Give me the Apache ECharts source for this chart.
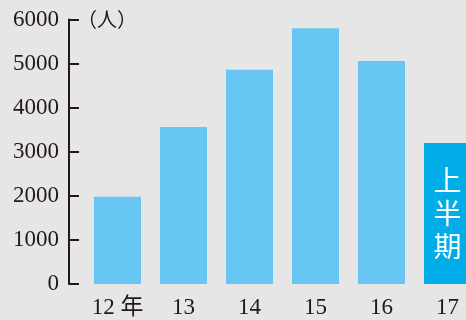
<!DOCTYPE html>
<html><head><meta charset="utf-8">
<script src="https://cdn.jsdelivr.net/npm/echarts@6/dist/echarts.min.js"></script>
<style>html,body{margin:0;padding:0;background:#e6e6e6;overflow:hidden;width:466px;height:320px;}#c{width:481px;height:320px;}</style>
</head><body><div id="c"></div>
<script>
const categories = ['12 年', '13', '14', '15', '16', '17'];
const values = [1980, 3560, 4860, 5800, 5060, 3200];
const yTicks = [0, 1000, 2000, 3000, 4000, 5000, 6000];
const unitLabel = '（人）';
const lastLabel = '上\n半\n期';

const chart = echarts.init(document.getElementById('c'), null, {renderer: 'canvas'});
const serif = '"Liberation Serif", "Times New Roman", "Noto Sans CJK JP", serif';
chart.setOption({
  backgroundColor: '#e6e6e6',
  animation: false,
  title: {
    text: unitLabel, left: 77, top: 9, padding: 0,
    textStyle: {fontFamily: '"Noto Sans CJK JP", serif', fontSize: 20, fontWeight: 'normal', color: '#231815'}
  },
  grid: {left: 84.5, right: 0.5, top: 19.5, height: 264.5, containLabel: false},
  xAxis: {
    type: 'category', data: categories,
    axisLine: {show: false}, axisTick: {show: false},
    axisLabel: {interval: 0, margin: 12, fontFamily: serif, fontSize: 23, color: '#231815'}
  },
  yAxis: {
    type: 'value', min: yTicks[0], max: yTicks[yTicks.length - 1], interval: 1000,
    offset: 15.5,
    axisLine: {show: true, lineStyle: {color: '#231815', width: 2}},
    axisTick: {show: true, inside: true, length: 10, lineStyle: {color: '#231815', width: 2}},
    axisLabel: {margin: 10, fontFamily: serif, fontSize: 23, color: '#231815', formatter: v => String(v)},
    splitLine: {show: false}
  },
  series: [{
    type: 'bar', barWidth: 47,
    data: values.map((v, i) => i === values.length - 1 ? {
      value: v,
      itemStyle: {color: '#00ade9'},
      label: {show: true, position: 'inside', formatter: lastLabel, color: '#ffffff',
        fontFamily: '"Noto Sans CJK JP", serif', fontSize: 28, lineHeight: 33}
    } : {value: v}),
    itemStyle: {color: '#67c6f2'}
  }]
});
</script></body></html>
